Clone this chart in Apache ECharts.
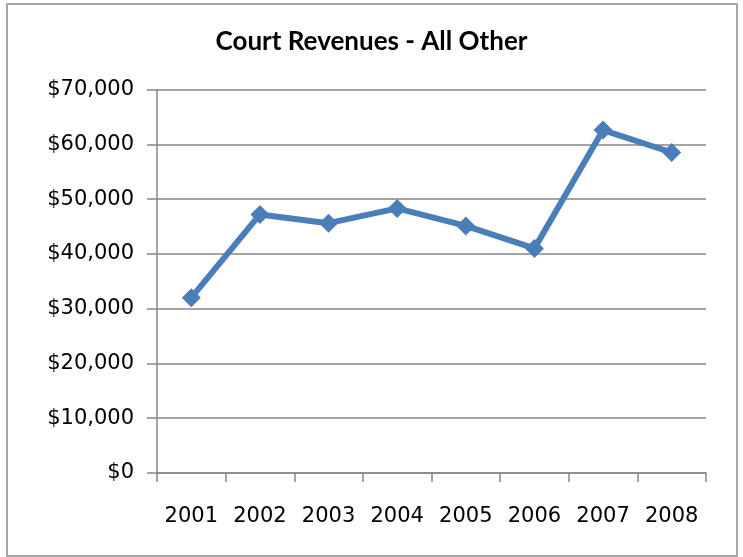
<!DOCTYPE html>
<html>
<head>
<meta charset="utf-8">
<script src="https://cdn.jsdelivr.net/npm/echarts@6/dist/echarts.min.js"></script>
<style>
  html, body { margin: 0; padding: 0; background: #fff; }
  #main { width: 743px; height: 557px; }
</style>
</head>
<body>
<div id="main"></div>
<script>
// data
var years = ['2001', '2002', '2003', '2004', '2005', '2006', '2007', '2008'];
var revenues = [32000, 47200, 45600, 48300, 45100, 41000, 62600, 58500];
var yTicks = { min: 0, max: 70000, step: 10000 };

function money(v) {
    return '$' + String(v).replace(/\B(?=(\d{3})+(?!\d))/g, ',');
}

var myChart = echarts.init(document.getElementById('main'));
var option = {
    backgroundColor: '#fff',
    animation: false,
    title: {
        text: 'Court Revenues - All Other',
        left: 'center',
        top: 24,
        textStyle: {
            fontFamily: 'Lato',
            fontWeight: 'bold',
            fontSize: 26,
            color: '#000'
        }
    },
    graphic: [{
        type: 'rect',
        shape: { x: 7, y: 4, width: 730, height: 552 },
        style: { fill: 'none', stroke: '#a6a6a6', lineWidth: 2 },
        silent: true
    }],
    grid: { left: 157, right: 37, top: 89.5, bottom: 84 },
    xAxis: {
        type: 'category',
        data: years,
        boundaryGap: true,
        axisLine: { lineStyle: { color: '#868686', width: 1.5 } },
        axisTick: { show: true, interval: 0, length: 9, lineStyle: { color: '#868686', width: 1.5 } },
        axisLabel: {
            interval: 0,
            hideOverlap: false,
            margin: 33,
            color: '#000',
            fontFamily: 'DejaVu Sans',
            fontSize: 21
        }
    },
    yAxis: {
        type: 'value',
        min: yTicks.min,
        max: yTicks.max,
        interval: yTicks.step,
        axisLine: { show: true, lineStyle: { color: '#868686', width: 1.5 } },
        axisTick: { show: true, length: 10, lineStyle: { color: '#868686', width: 1.5 } },
        splitLine: { lineStyle: { color: '#868686', width: 1.5 } },
        axisLabel: {
            margin: 23,
            color: '#000',
            fontFamily: 'DejaVu Sans',
            fontSize: 21,
            formatter: money
        }
    },
    series: [{
        type: 'line',
        data: revenues,
        symbol: 'diamond',
        symbolSize: 19,
        lineStyle: { color: '#4a7ebb', width: 6 },
        itemStyle: { color: '#4a7ebb' }
    }]
};
myChart.setOption(option);
</script>
</body>
</html>
